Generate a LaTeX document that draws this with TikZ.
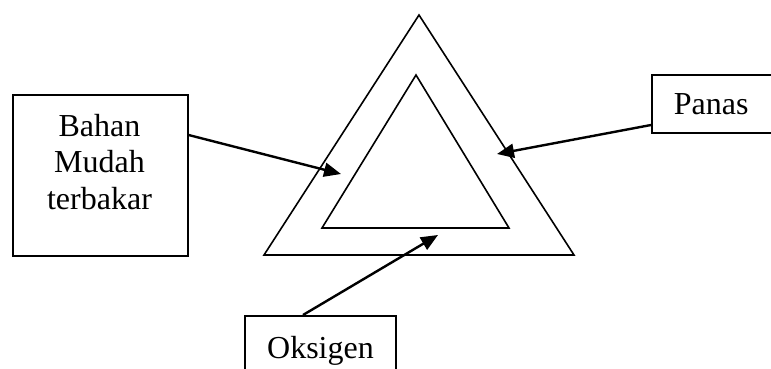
\documentclass[tikz,border=0pt]{standalone}
\usepackage{fontspec}
\setmainfont{Liberation Serif}
\usetikzlibrary{arrows.meta, calc}

\begin{document}
\begin{tikzpicture}[
  x=1pt, y=-1pt,
  box/.style={draw, line width=1.6pt, inner sep=0pt},
  lbl/.style={font=\fontsize{32}{36.5}\selectfont, align=center, inner sep=0pt},
  arrow/.style={-{Triangle[length=17pt, width=14pt]}, line width=2.4pt},
  ring/.style={line width=1.6pt, line join=miter},
]
\useasboundingbox (0,0) rectangle (771,369);

% Triangles
\draw[ring] (419,15) -- (574,255) -- (264,255) -- cycle;
\draw[ring] (416,75) -- (509,228) -- (322,228) -- cycle;

% Boxes
\node[box, minimum width=175pt, minimum height=161pt, anchor=north west] (fuel) at (12,94) {};
\node[lbl, anchor=north] (fueltext) at (99.5,114) {Bahan\\Mudah\\terbakar};
\node[box, lbl, anchor=west, minimum height=58pt, text width=100pt, inner xsep=22pt, align=left] (heat) at (651,104) {Panas};
\node[box, lbl, anchor=north, minimum width=151pt, minimum height=70pt] (oxy) at (320.5,315) {Oksigen};

% Arrow tips
\coordinate (fuelin) at (341,174);
\coordinate (heatin) at (497,154);
\coordinate (oxyin) at (438,235);

% Arrows
\draw[arrow] ($(fuel.north east)+(0,41)$) -- (fuelin);
\draw[arrow] ($(heat.west)+(0,21)$) -- (heatin);
\draw[arrow] ($(oxy.north)+(-17.5,0)$) -- (oxyin);

\end{tikzpicture}
\end{document}
